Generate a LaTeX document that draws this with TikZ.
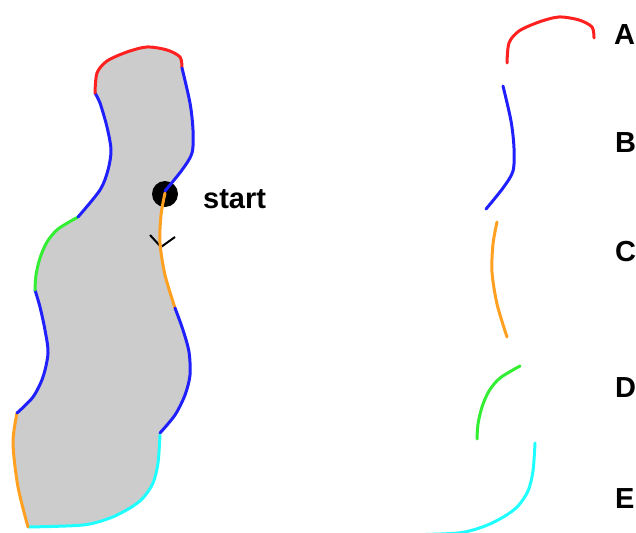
\documentclass[tikz,border=0pt]{standalone}
\usepackage{fontspec}
\setmainfont{Liberation Sans}
\definecolor{cred}{HTML}{FF2020}
\definecolor{cblue}{HTML}{2020FF}
\definecolor{cgreen}{HTML}{33EE33}
\definecolor{corange}{HTML}{FFA020}
\definecolor{ccyan}{HTML}{20FFFF}
\definecolor{cgray}{HTML}{CCCCCC}
\newcommand\segOa{plot[smooth] coordinates {(165,193) (161,215) (160,243) (165,275) (175,308)}}
\newcommand\segBa{plot[smooth] coordinates {(175,308) (183,330) (189,352) (190,375) (185,395) (175,415) (160,433)}}
\newcommand\segC{plot[smooth] coordinates {(160,435) (158,463) (153,483) (143,498) (130,508) (110,518) (83,525) (28,527)}}
\newcommand\segOb{plot[smooth] coordinates {(28,527) (18,487) (13,443) (17,413)}}
\newcommand\segBb{plot[smooth] coordinates {(17,413) (33,397) (43,377) (48,353) (45,330) (40,307) (35,290)}}
\newcommand\segG{plot[smooth] coordinates {(35,290) (36,275) (40,258) (47,242) (58,229) (78,217)}}
\newcommand\segBc{plot[smooth] coordinates {(78,217) (100,190) (108,170) (111,150) (107,127) (100,103) (95,93)}}
\newcommand\segR{plot[smooth] coordinates {(95,93) (97,73) (107,61) (127,52) (147,47) (167,50) (180,57) (182,68)}}
\newcommand\segBd{plot[smooth] coordinates {(182,68) (190,103) (193,130) (192,153) (182,170) (165,191)}}
\edef\fullpath{\segOa\space -- \segBa\space -- \segC\space -- \segOb\space -- \segBb\space -- \segG\space -- \segBc\space -- \segR\space -- \segBd\space -- cycle}
\tikzset{
  seg/.style={line width=3pt, line cap=round, line join=round},
  lbl/.style={font=\fontsize{29}{29}\selectfont\bfseries, inner sep=0pt, anchor=base west},
}
\begin{document}
\begin{tikzpicture}[x=1pt, y=-1pt]
\useasboundingbox (0,0) rectangle (636,532);
\fill[white] (0,0) rectangle (636,532);
% shape
\fill[cgray] \fullpath;
\node[circle, fill=black, minimum size=26pt, inner sep=0pt] (startdot) at (165,194) {};
\draw[line width=2pt, black] (150,235) -- (161,247) -- (175,237);
\draw[seg, corange] \segOa;
\draw[seg, cblue] \segBa;
\draw[seg, ccyan] \segC;
\draw[seg, corange] \segOb;
\draw[seg, cblue] \segBb;
\draw[seg, cgreen] \segG;
\draw[seg, cblue] \segBc;
\draw[seg, cred] \segR;
\draw[seg, cblue] \segBd;
\node[lbl] (starttext) at (203,208) {start};
% separated pieces
\draw[seg, cred, shift={(412,-30)}] \segR;
\draw[seg, cblue, shift={(321,18)}] \segBd;
\draw[seg, corange, shift={(332,29)}] \segOa;
\draw[seg, cgreen, shift={(442,149)}] \segG;
\draw[seg, ccyan, shift={(375,8)}] \segC;
\node[lbl] (la) at (614,45) {A};
\node[lbl] (lb) at (615,152) {B};
\node[lbl] (lc) at (615,261) {C};
\node[lbl] (ld) at (615,397) {D};
\node[lbl] (le) at (615,508) {E};
\end{tikzpicture}
\end{document}
